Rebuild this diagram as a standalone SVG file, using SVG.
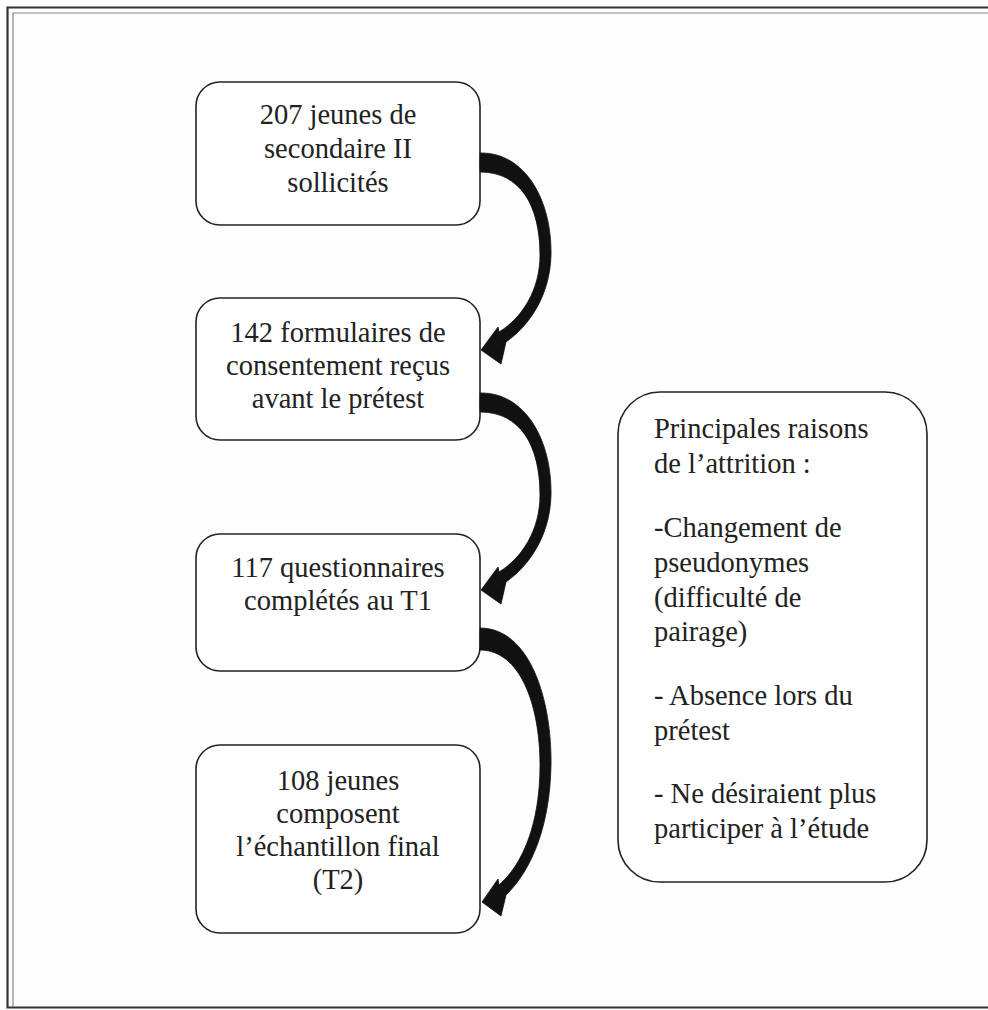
<svg xmlns="http://www.w3.org/2000/svg" width="988" height="1010" viewBox="0 0 988 1010">
<style>
.box{fill:#fff;stroke:#222;stroke-width:1.6}
.t{font-family:"Liberation Serif","Times New Roman",serif;font-size:28.5px;fill:#222}
.c{text-anchor:middle}
.arr{fill:#111;stroke:#111;stroke-width:0.8;stroke-linejoin:round}
</style>
<rect width="988" height="1010" fill="#fdfdfd"/>
<g id="frame" fill="none">
<path d="M988,7.5 H7.5 V1007.5 H988" stroke="#333" stroke-width="2.2"/>
<path d="M988,13 H13 V1007" stroke="#888" stroke-width="1.2"/>
</g>
<g id="n1">
<rect class="box" x="196" y="82" width="284" height="143" rx="24"/>
<text class="t c" x="338" y="124">207 jeunes de</text>
<text class="t c" x="338" y="158">secondaire II</text>
<text class="t c" x="338" y="192">sollicités</text>
</g>
<g id="n2">
<rect class="box" x="196" y="298" width="284" height="142" rx="24"/>
<text class="t c" x="338" y="342">142 formulaires de</text>
<text class="t c" x="338" y="375">consentement reçus</text>
<text class="t c" x="338" y="408">avant le prétest</text>
</g>
<g id="n3">
<rect class="box" x="196" y="534" width="284" height="137" rx="24"/>
<text class="t c" x="338" y="577">117 questionnaires</text>
<text class="t c" x="338" y="610">complétés au T1</text>
</g>
<g id="n4">
<rect class="box" x="196" y="745" width="284" height="188" rx="24"/>
<text class="t c" x="338" y="790">108 jeunes</text>
<text class="t c" x="338" y="823">composent</text>
<text class="t c" x="338" y="856">l’échantillon final</text>
<text class="t c" x="338" y="889">(T2)</text>
</g>
<g id="n5">
<rect class="box" x="618" y="392" width="309" height="490" rx="42"/>
<text class="t" x="654" y="438">Principales raisons</text>
<text class="t" x="654" y="473">de l’attrition :</text>
<text class="t" x="654" y="537">-Changement de</text>
<text class="t" x="654" y="572">pseudonymes</text>
<text class="t" x="654" y="607">(difficulté de</text>
<text class="t" x="654" y="641">pairage)</text>
<text class="t" x="654" y="705">- Absence lors du</text>
<text class="t" x="654" y="740">prétest</text>
<text class="t" x="654" y="803">- Ne désiraient plus</text>
<text class="t" x="654" y="838">participer à l’étude</text>
</g>
<g id="connectors">
<path class="arr" d="M480,153 C525,152 552,200 551,255 C550,295 530,325 506,342 L501,364 L481,350 L498,327 L499,332 C522,318 540,290 540,255 C540,205 520,172 480,172 Z"/>
<path class="arr" transform="translate(0,240)" d="M480,153 C525,152 552,200 551,255 C550,295 530,325 506,342 L501,364 L481,350 L498,327 L499,332 C522,318 540,290 540,255 C540,205 520,172 480,172 Z"/>
<path class="arr" d="M480,628 C530,628 552,700 551,765 C550,825 532,870 506,895 L501,916 L482,902 L498,879 L499,885 C522,865 540,825 540,765 C540,705 520,650 480,650 Z"/>
</g>
</svg>
